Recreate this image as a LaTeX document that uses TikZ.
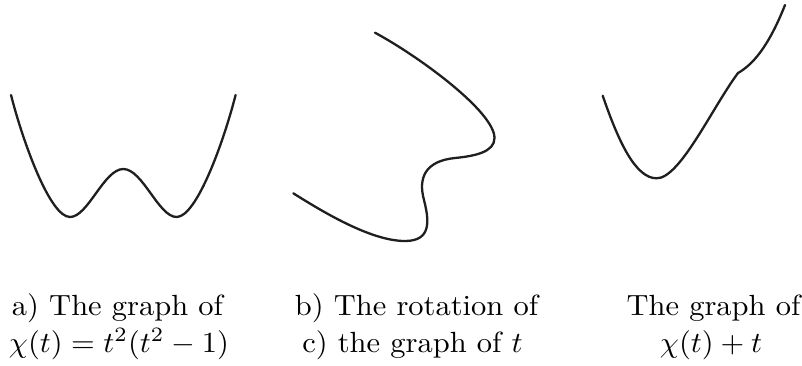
\documentclass[tikz,border=0pt]{standalone}
\usepackage{graphicx}
\begin{document}
\begin{tikzpicture}[x=1pt,y=-1pt,
  curve/.style={line width=2.3pt, line join=round, line cap=round, black!88},
  captxt/.style={anchor=base, inner sep=0pt}]
\newcommand{\bigtxt}[1]{\scalebox{3.05}[2.92]{#1}}
\useasboundingbox (0,0) rectangle (802,365);
% a) W-shaped graph
\draw[curve] (11,95) .. controls (23,142) and (50,217) .. (70,217)
  .. controls (88,217) and (104,169) .. (123.3,169)
  .. controls (142.6,169) and (158.6,217) .. (176.6,217)
  .. controls (196.6,217) and (223.6,142) .. (235.6,95);
% b) rotated curve
\draw[curve] (375,32.7) .. controls (420,57) and (494.5,112) .. (494.5,138)
  .. controls (494.5,152) and (475,156) .. (455,158)
  .. controls (425,161) and (418,178) .. (424,200)
  .. controls (429,220) and (432,241) .. (405,241)
  .. controls (370,241) and (320,210) .. (293.3,193.3);
% c) graph of chi(t)+t
\draw[curve] (602.7,95.7) .. controls (618,140) and (635,178.3) .. (656.7,178.3)
  .. controls (680,178.3) and (712,108) .. (738,73)
  .. controls (752,65) and (768,48) .. (785,5);
% captions
\node[captxt] (a1) at (117.5,315) {\bigtxt{a) The graph of}};
\node[captxt] (a2) at (119,352) {\bigtxt{$\chi(t)=t^2(t^2-1)$}};
\node[captxt] (b1) at (416.5,315) {\bigtxt{b) The rotation of}};
\node[captxt] (b2) at (412.5,352) {\bigtxt{c) the graph of $t$}};
\node[captxt] (c1) at (713.5,315) {\bigtxt{The graph of}};
\node[captxt] (c2) at (711,352) {\bigtxt{$\chi(t)+t$}};
\end{tikzpicture}
\end{document}
